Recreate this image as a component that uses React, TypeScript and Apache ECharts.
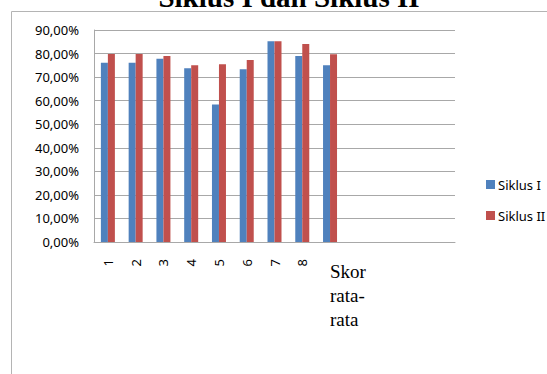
import React, { useEffect, useRef } from "react";
import * as echarts from "echarts";

const titleText = "Siklus I dan Siklus II";
const categories = ["1", "2", "3", "4", "5", "6", "7", "8", "Skor rata-rata"];
const emptySlots = ["", "", "", ""];
const siklus1 = [76.1, 76.1, 77.8, 73.8, 58.4, 73.3, 85.2, 79.0, 75.0];
const siklus2 = [79.8, 79.8, 79.0, 75.0, 75.5, 77.3, 85.2, 84.1, 79.7];
const seriesNames = ["Siklus I", "Siklus II"];
const yMin = 0;
const yMax = 90;
const yStep = 10;

export default function App() {
  const ref = useRef<HTMLDivElement>(null);
  useEffect(() => {
    document.body.style.margin = "0";
    if (!ref.current) return;
    const chart = echarts.init(ref.current, null, { renderer: "svg" });
    const axisData = [...categories, ...emptySlots.map((_, i) => " ".repeat(i + 1))];
    const gridColor = "#a8a8a8";
    chart.setOption({
      animation: false,
      backgroundColor: "#ffffff",
      graphic: [
        {
          type: "rect",
          shape: { x: 11.5, y: 11.5, width: 700, height: 500 },
          style: { fill: "none", stroke: "#b4b4b4", lineWidth: 1 },
          silent: true,
          z: -1,
        },
        {
          type: "text",
          x: 289,
          y: -3.5,
          style: {
            text: titleText,
            font: "bold 29px 'Liberation Serif', 'Times New Roman', serif",
            fill: "#000",
            textAlign: "center",
            textVerticalAlign: "middle",
          },
        },
      ],
      legend: {
        orient: "vertical",
        left: 481,
        top: 173,
        itemWidth: 9,
        itemHeight: 9,
        itemGap: 18,
        icon: "rect",
        textStyle: { fontFamily: "Noto Sans", fontSize: 13, color: "#000", padding: [0, 0, 0, -2] },
        data: seriesNames,
      },
      grid: { left: 94, right: 92, top: 30, bottom: 132, containLabel: false },
      xAxis: [
        {
          type: "category",
          data: axisData,
          axisLine: { show: true, lineStyle: { color: gridColor } },
          axisTick: { show: false },
          axisLabel: {
            interval: 0,
            rotate: 90,
            margin: 17,
            fontFamily: "Noto Sans",
            fontSize: 13,
            color: "#000",
            formatter: (v: string, i: number) => (i < 8 ? v : ""),
          },
        },
        {
          type: "category",
          data: axisData,
          position: "bottom",
          axisLine: { show: false },
          axisTick: { show: false },
          splitLine: { show: false },
          axisLabel: {
            interval: 0,
            margin: 17,
            align: "left",
            fontFamily: "'Liberation Serif', 'Times New Roman', serif",
            fontSize: 19,
            lineHeight: 24,
            color: "#000",
            hideOverlap: false,
            formatter: (v: string) => (v === "Skor rata-rata" ? "Skor\nrata-\nrata" : ""),
          },
        },
      ],
      yAxis: {
        type: "value",
        min: yMin,
        max: yMax,
        interval: yStep,
        axisLine: { show: true, lineStyle: { color: gridColor } },
        axisTick: { show: false },
        splitLine: { show: true, lineStyle: { color: gridColor, width: 1 } },
        axisLabel: {
          margin: 15,
          fontFamily: "Noto Sans",
          fontSize: 13,
          color: "#000",
          formatter: (v: number) => v.toFixed(2).replace(".", ",") + "%",
        },
      },
      series: [
        {
          name: seriesNames[0],
          type: "bar",
          xAxisIndex: 0,
          data: siklus1,
          barWidth: 7,
          barGap: "0%",
          itemStyle: { color: "#4F81BD" },
        },
        {
          name: seriesNames[1],
          type: "bar",
          xAxisIndex: 0,
          data: siklus2,
          barWidth: 7,
          barGap: "0%",
          itemStyle: { color: "#C0504D" },
        },
      ],
    });
    return () => chart.dispose();
  }, []);
  return <div ref={ref} style={{ width: 547, height: 374 }} />;
}
